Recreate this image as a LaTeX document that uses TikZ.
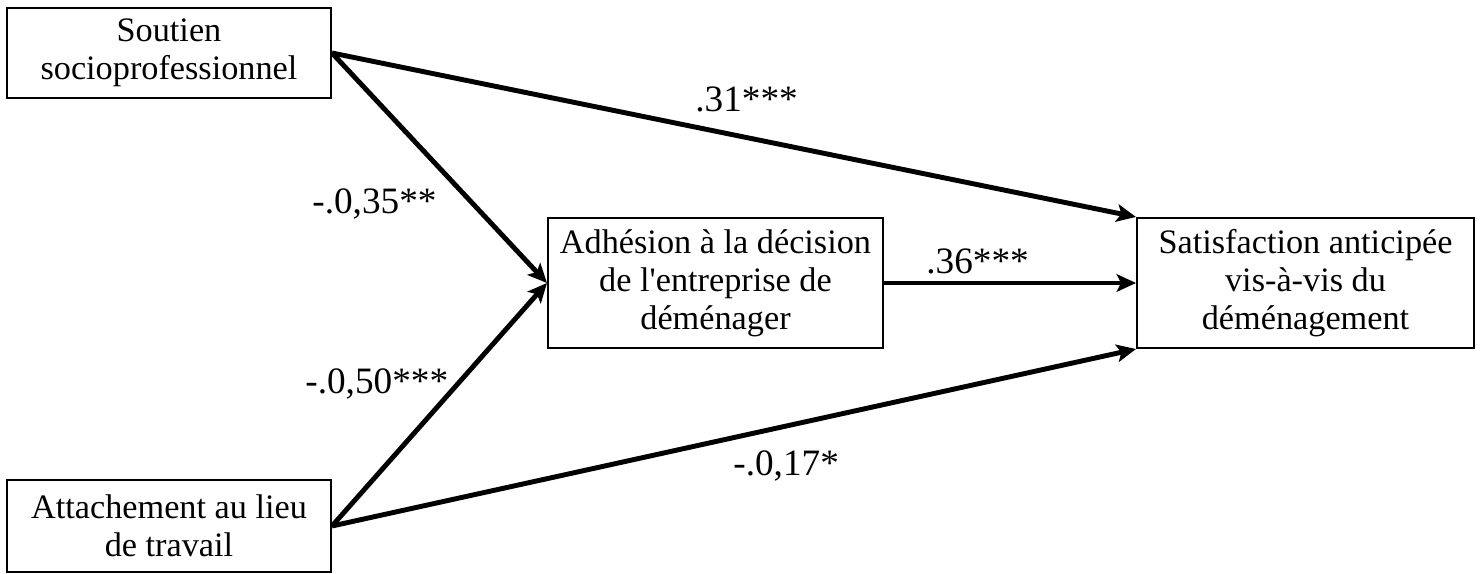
\documentclass[tikz,border=0pt]{standalone}
\usepackage{fontspec}
\setmainfont{Liberation Serif}
\usetikzlibrary{arrows.meta}

\begin{document}
\begin{tikzpicture}[x=0.02cm,y=-0.02cm,
  boite/.style={draw,line width=1.2pt,align=center,inner sep=0pt,
    font=\fontsize{19.5}{21.6}\selectfont},
  effet/.style={line width=2.8pt,-{Stealth[length=11pt,width=10pt,inset=2.5pt]}},
  coef/.style={anchor=base west,inner sep=0pt,font=\fontsize{21.2}{24}\selectfont}]
\useasboundingbox (0,0) rectangle (1483,574);
% variables
\node[boite,minimum width=6.48cm,minimum height=1.8cm] (soutien) at (169,53)
  {Soutien\\socioprofessionnel};
\node[boite,minimum width=6.48cm,minimum height=1.84cm] (attachement) at (169,526)
  {Attachement au lieu\\de travail};
\node[boite,minimum width=6.7cm,minimum height=2.6cm] (adhesion) at (715.5,283)
  {Adhésion à la décision\\de l\textquotesingle entreprise de\\déménager};
\node[boite,minimum width=6.74cm,minimum height=2.6cm] (satisfaction) at (1305.5,283)
  {Satisfaction anticipée\\vis-à-vis du\\déménagement};
% paths
\draw[effet] (soutien.east) -- (adhesion.west);
\draw[effet] (attachement.east) -- (adhesion.west);
\draw[effet] (soutien.east) -- (satisfaction.north west);
\draw[effet] (attachement.east) -- (satisfaction.south west);
\draw[effet] (adhesion.east) -- (satisfaction.west);
% coefficients
\node[coef] (b31) at (695,112) {.31***};
\node[coef] (b35) at (312,214) {-.0,35**};
\node[coef] (b50) at (305,393) {-.0,50***};
\node[coef] (b36) at (926,273) {.36***};
\node[coef] (b17) at (733,475) {-.0,17*};
\end{tikzpicture}
\end{document}
